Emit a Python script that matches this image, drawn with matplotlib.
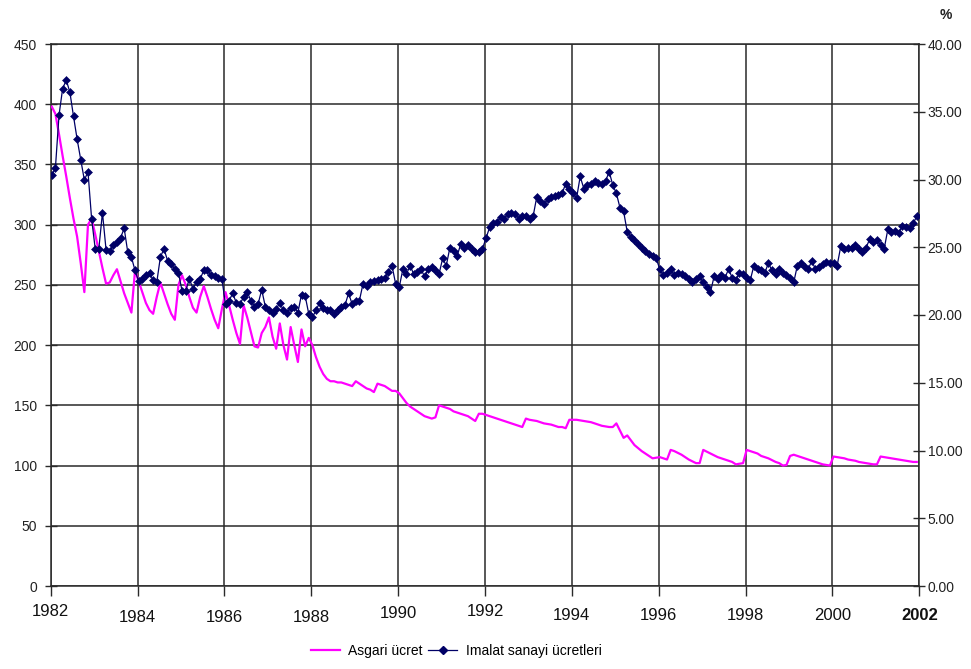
import matplotlib
matplotlib.use('Agg')
import matplotlib.pyplot as plt
import numpy as np
from matplotlib.lines import Line2D

plt.rcParams['font.family'] = ['Liberation Sans', 'DejaVu Sans']

# monthly values, Jan 1982 .. Dec 2001, one row per year
asgari_ucret = [
    398, 392, 375, 357, 340, 322, 305, 290, 268, 244, 300, 305,   # 1982
    292, 278, 264, 251, 252, 258, 263, 253, 243, 235, 227, 262,   # 1983
    253, 244, 235, 229, 226, 240, 252, 243, 234, 226, 221, 250,   # 1984
    258, 250, 240, 231, 227, 240, 249, 240, 230, 221, 214, 230,   # 1985
    244, 233, 221, 210, 201, 233, 223, 211, 199, 198, 210, 215,   # 1986
    223, 207, 197, 218, 200, 188, 215, 200, 186, 213, 199, 206,   # 1987
    200, 190, 182, 176, 172, 170, 170, 169, 169, 168, 167, 166,   # 1988
    170, 168, 166, 164, 163, 161, 168, 167, 166, 164, 162, 162,   # 1989
    160, 156, 152, 149, 147, 145, 143, 141, 140, 139, 140, 150,   # 1990
    149, 148, 147, 145, 144, 143, 142, 141, 139, 137, 143, 143,   # 1991
    142, 141, 140, 139, 138, 137, 136, 135, 134, 133, 132, 139,   # 1992
    138, 137.5, 137, 136, 135, 134.5, 134, 133, 132, 132, 131, 138,   # 1993
    138, 138, 137.5, 137, 136.5, 136, 135, 134, 133, 132.5, 132, 132,  # 1994
    135, 129, 123, 125, 121, 117, 114.5, 112, 110, 108, 106, 106.5,  # 1995
    107, 106, 105, 113, 112, 110.5, 109, 107, 105, 103.5, 102, 102,  # 1996
    113, 111.5, 110, 108.5, 107, 106, 105, 104, 103, 101, 101.5, 102,  # 1997
    113, 112, 111, 110, 108, 107, 106, 104.5, 103, 102, 100, 100.5,  # 1998
    108, 109, 108, 107, 106, 105, 104, 103, 102, 101, 100.5, 100,   # 1999
    107.5, 107, 106.5, 106, 105, 104.5, 104, 103, 102.5, 102, 101.5, 101,  # 2000
    101, 107.5, 107, 106.5, 106, 105.5, 105, 104.5, 104, 103.5, 103, 103,  # 2001
]

imalat_ucret = [
    341, 347, 391, 413, 420, 410, 390, 371, 354, 337, 344, 305,   # 1982
    280, 280, 310, 279, 278, 283, 286, 289, 297, 277, 273, 262,   # 1983
    253, 255, 258, 260, 254, 252, 273, 280, 270, 267, 263, 260,   # 1984
    245, 245, 255, 247, 252, 255, 262, 262, 258, 257, 256, 255,   # 1985
    234, 237, 243, 235, 234, 240, 244, 237, 232, 234, 246, 232,   # 1986
    229, 227, 230, 235, 229, 227, 231, 232, 227, 242, 241, 226,   # 1987
    223, 229, 235, 231, 229, 229, 226, 229, 232, 233, 243, 234,   # 1988
    237, 237, 251, 249, 252, 253, 254, 255, 256, 261, 266, 251,   # 1989
    248, 263, 259, 266, 259, 261, 263, 257, 263, 265, 262, 259,   # 1990
    272, 266, 281, 278, 274, 284, 281, 283, 280, 277, 277, 280,   # 1991
    289, 298, 301, 302, 306, 305, 309, 310, 309, 305, 307, 307,   # 1992
    305, 307, 323, 320, 317, 321, 323, 324, 325, 326, 334, 330,   # 1993
    326, 322, 340, 330, 333, 334, 336, 335, 334, 336, 344, 333,   # 1994
    326, 314, 311, 294, 290, 287, 284, 281, 278, 276, 274, 272,   # 1995
    263, 258, 260, 263, 258, 260, 259, 257, 255, 252, 255, 257,   # 1996
    252, 248, 244, 257, 255, 258, 256, 263, 256, 254, 260, 259,   # 1997
    256, 254, 266, 263, 262, 260, 268, 262, 259, 263, 260, 258,   # 1998
    256, 252, 266, 268, 265, 263, 270, 263, 265, 267, 269, 268,   # 1999
    268, 266, 282, 280, 281, 281, 283, 280, 277, 281, 288, 286,   # 2000
    287, 283, 280, 296, 294, 295, 293, 299, 298, 297, 301, 307,   # 2001
]

years = list(range(1982, 2003, 2))
year_labels = [str(y) for y in years]
left_ticks = list(range(0, 451, 50))
right_ticks = list(range(0, 41, 5))

PINK = '#ff00ff'
NAVY = '#000066'
GRID = '#2a2a2a'

W, H = 971, 669
fig = plt.figure(figsize=(W / 100, H / 100), dpi=100)
ax = fig.add_axes([50.7 / W, 1 - 586 / H, (919.3 - 50.7) / W, (586 - 44) / H])

t = 1982 + (np.arange(len(imalat_ucret)) + 0.3) / 12.0

ax.plot(t, asgari_ucret, color=PINK, lw=1.6, zorder=3)
ax.plot(t, imalat_ucret, color=NAVY, lw=0.9, marker='D', markersize=3.8,
        markeredgewidth=0.4, zorder=4)

ax.set_xlim(1982, 2002)
ax.set_ylim(0, 450)
ax.set_xticks(years)
ax.set_xticklabels([])
ax.set_yticks(left_ticks)
ax.set_yticklabels([str(v) for v in left_ticks], fontsize=10, color='#222222')
ax.grid(True, color=GRID, lw=1.1)
ax.set_axisbelow(True)
for s in ax.spines.values():
    s.set_color(GRID)
    s.set_linewidth(1.1)
ax.tick_params(axis='y', direction='inout', length=8, width=1, color=GRID, pad=6)
ax.tick_params(axis='x', direction='out', length=7, width=1, color=GRID)

# x labels sit at slightly different heights, as in the original
label_y = [612, 617, 617, 617, 614, 612, 615, 615, 615, 615, 616]
for yr, lab, yp in zip(years, year_labels, label_y):
    ax.text(yr, (586 - yp) / (586 - 44), lab, transform=ax.get_xaxis_transform(),
            ha='center', va='center', fontsize=12, color='#111111',
            fontweight='bold' if yr == 2002 else 'normal')

ax2 = ax.twinx()
ax2.set_ylim(0, 40)
ax2.set_yticks(right_ticks)
ax2.set_yticklabels(['%.2f' % v for v in right_ticks], fontsize=10, color='#222222')
ax2.tick_params(axis='y', direction='inout', length=8, width=1, color=GRID, pad=2)
for s in ax2.spines.values():
    s.set_visible(False)
fig.text(946 / W, 1 - 15 / H, '%', ha='center', va='center', fontsize=10,
         fontweight='bold', color='#222222')

handles = [Line2D([], [], color=PINK, lw=1.6),
           Line2D([], [], color=NAVY, lw=0.9, marker='D', markersize=3.8)]
fig.legend(handles, ['Asgari ücret', 'Imalat sanayi ücretleri'], loc='center',
           bbox_to_anchor=(456 / W, 1 - 651 / H), ncol=2, frameon=False,
           fontsize=10, handlelength=2.1, columnspacing=0.4, handletextpad=0.6)

fig.savefig('out.png', dpi=100, facecolor='white')
